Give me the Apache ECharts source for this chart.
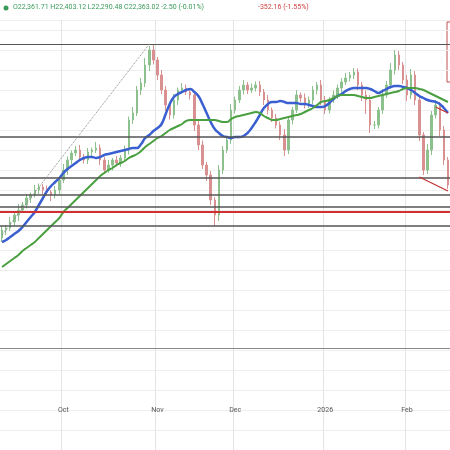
<!DOCTYPE html>
<html><head><meta charset="utf-8">
<script src="https://cdn.jsdelivr.net/npm/echarts@6/dist/echarts.min.js"></script>
<style>html,body{margin:0;padding:0;background:#fff}#c{width:450px;height:450px}</style>
</head><body><div id="c"></div>
<script>
// trading days Sep 10 2025 .. Feb 13 2026 (US market holidays excluded)
const holidays = ['2025-11-27','2025-12-25','2026-01-01','2026-01-19'];
const monthLabels = {9:'Sep',10:'Oct',11:'Nov',12:'Dec',1:'2026',2:'Feb'};
const closes = [21700,21720,21780,21850,21900,21950,22020,22050,22100,22130,
22100,22080,22050,22100,22200,22300,22400,22470,22500,22430,
22400,22480,22500,22520,22400,22300,22350,22400,22370,22420,
22500,22800,22870,23100,23170,23350,23500,23400,23250,23100,
22950,22850,23000,23100,23120,23080,23050,22750,22550,22350,
22250,22000,21850,22300,22500,22600,22900,23000,23100,23150,
23100,23120,23150,23080,23000,22900,22820,22750,22650,22500,
22800,22900,23050,23020,22950,23000,23100,23150,23000,22900,
23000,23050,23120,23180,23220,23250,23280,23150,23050,23000,
22750,22750,22900,23050,23150,23300,23450,23350,23200,23050,
23250,23000,22650,22300,22500,22850,22950,22700,22400,22150];
const firstOpen = 21620;
const upperWick = [40,30,50,20,60,30,40,25,50,35,30,45,20,40,30,60,35,25,40,50,
30,40,25,60,35,30,50,20,40,30,45,35,60,40,50,70,40,60,30,50,
40,30,60,25,50,35,40,30,55,45,30,40,30,50,40,30,60,35,40,50,
30,45,35,40,30,50,25,40,35,60,40,30,50,25,45,35,40,30,50,40,
30,45,35,40,50,30,40,35,30,45,50,40,30,60,40,70,50,40,30,50,
60,40,50,30,60,40,50,30,40,30];
const lowerWick = [40,50,30,40,60,30,35,50,25,40,45,30,60,35,40,30,50,40,30,45,
35,40,60,30,50,40,30,55,35,40,30,45,40,30,50,40,60,45,50,40,
60,45,35,50,40,30,45,60,50,40,60,50,110,60,40,30,40,35,30,45,
40,30,35,40,50,45,40,35,50,60,40,45,30,40,35,30,40,45,50,40,
35,30,40,45,30,35,40,50,60,140,80,40,35,40,30,35,45,50,40,60,
40,50,60,50,40,50,35,60,50,40];
const maFast = [21580,21600,21630,21660,21690,21730,21780,21830,21880,21950,
22020,22090,22140,22180,22220,22270,22310,22340,22370,22400,
22420,22430,22430,22420,22430,22450,22460,22470,22480,22490,
22500,22510,22520,22520,22560,22620,22650,22690,22720,22760,
22860,22960,23030,23060,23080,23100,23110,23080,23040,22960,
22870,22780,22710,22670,22640,22630,22620,22630,22630,22640,
22670,22720,22780,22850,22920,22960,22980,22980,22990,22980,
22970,22970,22970,22960,22960,22950,22940,22930,22930,22940,
22970,23010,23040,23060,23090,23110,23120,23120,23120,23120,
23110,23090,23070,23090,23110,23130,23140,23140,23130,23120,
23100,23070,23040,23020,23000,22990,22980,22960,22920,22870];
const maSlow = [21330,21360,21390,21420,21450,21490,21520,21550,21580,21620,
21660,21700,21740,21780,21820,21880,21920,21960,22000,22040,
22080,22120,22160,22200,22240,22270,22300,22320,22350,22370,
22390,22420,22440,22460,22490,22530,22560,22590,22620,22640,
22670,22700,22720,22740,22760,22790,22800,22800,22800,22800,
22800,22800,22800,22790,22780,22780,22810,22830,22840,22850,
22860,22870,22880,22870,22840,22820,22800,22800,22810,22820,
22830,22840,22850,22860,22880,22900,22920,22950,22980,22990,
23000,23020,23040,23050,23050,23050,23050,23040,23030,23020,
23020,23030,23040,23050,23060,23070,23080,23090,23110,23120,
23120,23120,23110,23100,23080,23060,23040,23020,23000,22980];
const levelsGray = [23560,22630,22220,22050,21930,21740,20520];
const levelRed = 21880;
const header = 'O22,361.71 H22,403.12 L22,290.48 C22,363.02 -2.50 (-0.01%)';
const headerChg = '-352.16 (-1.55%)';

const dates = [];
{ const d = new Date(Date.UTC(2025,8,10));
  while (dates.length < closes.length) {
    const wd = d.getUTCDay(); const s = d.toISOString().slice(0,10);
    if (wd !== 0 && wd !== 6 && !holidays.includes(s)) dates.push(s);
    d.setUTCDate(d.getUTCDate()+1);
  } }
const monthStart = dates.map((s,i)=> i>0 && s.slice(5,7)!==dates[i-1].slice(5,7));
const candles = closes.map((c,i)=>{
  const o = i===0 ? firstOpen : closes[i-1];
  return [o, c, Math.min(o,c)-lowerWick[i], Math.max(o,c)+upperWick[i]];
});
const chart = echarts.init(document.getElementById('c'), null, {renderer:'canvas'});
chart.setOption({
  animation:false,
  grid:{left:0,right:0,top:20,bottom:0},
  graphic:[
    {type:'circle',shape:{cx:6,cy:8,r:2.5},style:{fill:'#3a9a5a'}},
    {type:'text',left:13,top:4,style:{text:header,fill:'#3a9a5a',font:'7px Roboto'}},
    {type:'text',left:258,top:4,style:{text:headerChg,fill:'#d04040',font:'7px Roboto'}},
    {type:'rect',shape:{x:447,y:22,width:10,height:60},style:{fill:'none',stroke:'#c05050',lineWidth:1}}
  ],
  xAxis:{type:'category',data:dates,boundaryGap:true,
    axisLine:{show:false},axisTick:{show:false},
    axisLabel:{inside:true,margin:36,color:'#555',fontSize:7,fontFamily:'Roboto',
      interval:(i)=>monthStart[i],
      formatter:(v)=>monthLabels[+v.slice(5,7)]},
    splitLine:{show:true,interval:(i)=>monthStart[i],lineStyle:{color:'#e4e4e4',width:1}}},
  yAxis:{type:'value',min:19500,max:23800,interval:200,show:true,
    axisLabel:{show:false},axisLine:{show:false},axisTick:{show:false},
    splitLine:{lineStyle:{color:'#eeeeee'}}},
  series:[
    {type:'candlestick',data:candles,barWidth:2,
     itemStyle:{color:'#8cc08c',color0:'#d89090',borderColor:'#8cc08c',borderColor0:'#d89090',borderWidth:1},
     markLine:{symbol:'none',silent:true,label:{show:false},
       data:[
        ...levelsGray.map((v,k)=>({yAxis:v,lineStyle:{color:k===6?'#888':'#555',width:k===0||k===6?1:1.5,type:'solid'}})),
        {yAxis:levelRed,lineStyle:{color:'#d03030',width:2,type:'solid'}},
        [{coord:[0,21650],lineStyle:{color:'#888',type:'dotted',width:1}},{coord:[36,23560]}],
        [{coord:[102,22230],lineStyle:{color:'#c03030',type:'solid',width:1.2}},{coord:[109,22090]}],
        [{coord:[106,22930],lineStyle:{color:'#c03030',type:'solid',width:1.2}},{coord:[109,22870]}]
       ]}},
    {type:'line',data:maFast,showSymbol:false,smooth:true,lineStyle:{color:'#3a5fd0',width:2.5}},
    {type:'line',data:maSlow,showSymbol:false,smooth:true,lineStyle:{color:'#4aa040',width:2}}
  ]
});
</script></body></html>
